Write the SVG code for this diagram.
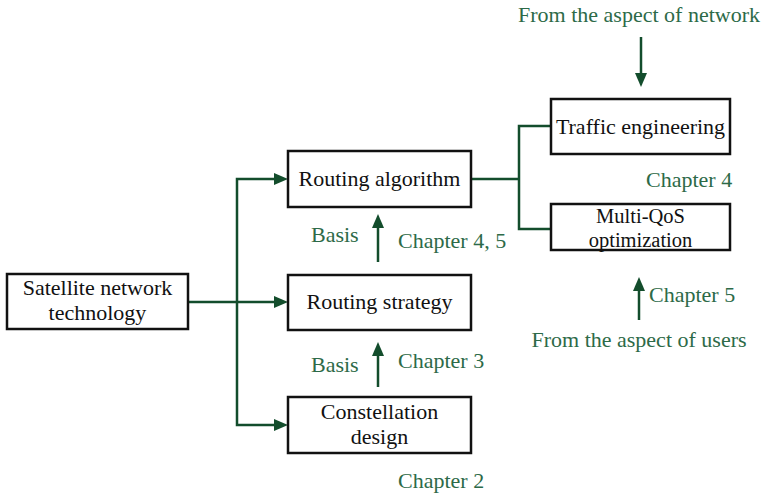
<svg xmlns="http://www.w3.org/2000/svg" width="762" height="495" viewBox="0 0 762 495">
<style>
.box{fill:#fff;stroke:#111;stroke-width:2.5}
.t{font-family:"Liberation Serif","Times New Roman",serif;font-size:22px;fill:#111;text-anchor:middle}
.s{font-size:20.5px}
.g{font-family:"Liberation Serif","Times New Roman",serif;font-size:22px;fill:#2d6a48}
.ln{fill:none;stroke:#134d2c;stroke-width:2.5}
.ah{fill:#134d2c}
</style>
<rect width="762" height="495" fill="#fff"/>
<g id="connectors">
<polyline class="ln" points="188,302 276,302"/>
<polyline class="ln" points="276,179 237,179 237,425 276,425"/>
<polygon class="ah" points="288,179 274,173 274,185"/>
<polygon class="ah" points="288,302 274,296 274,308"/>
<polygon class="ah" points="288,425 274,419 274,431"/>
<polyline class="ln" points="471,179 519,179"/>
<polyline class="ln" points="551,126 519,126 519,229 551,229"/>
<line class="ln" x1="378" y1="262" x2="378" y2="226"/>
<polygon class="ah" points="378,214 372,228 384,228"/>
<line class="ln" x1="378" y1="387" x2="378" y2="354"/>
<polygon class="ah" points="378,342 372,356 384,356"/>
<line class="ln" x1="641" y1="37" x2="641" y2="75"/>
<polygon class="ah" points="641,87 635,73 647,73"/>
<line class="ln" x1="639" y1="320" x2="639" y2="289"/>
<polygon class="ah" points="639,277 633,291 645,291"/>
</g>
<g id="satellite">
<rect class="box" x="7" y="274" width="181" height="55"/>
<text class="t" x="97.5" y="295">Satellite network</text>
<text class="t" x="97.5" y="320">technology</text>
</g>
<g id="routing-algorithm">
<rect class="box" x="288" y="151" width="183" height="56"/>
<text class="t" x="379.5" y="186">Routing algorithm</text>
</g>
<g id="routing-strategy">
<rect class="box" x="288" y="275" width="183" height="55"/>
<text class="t" x="379.5" y="309">Routing strategy</text>
</g>
<g id="constellation">
<rect class="box" x="288" y="397" width="183" height="56"/>
<text class="t" x="379.5" y="419">Constellation</text>
<text class="t" x="379.5" y="444">design</text>
</g>
<g id="traffic">
<rect class="box" x="551" y="99" width="179" height="55"/>
<text class="t" x="640.5" y="134">Traffic engineering</text>
</g>
<g id="multiqos">
<rect class="box" x="551" y="204" width="179" height="46"/>
<text class="t s" x="640.5" y="223">Multi-QoS</text>
<text class="t s" x="640.5" y="246.5">optimization</text>
</g>
<g id="labels">
<text class="g" x="639" y="22" text-anchor="middle">From the aspect of network</text>
<text class="g" x="646" y="187">Chapter 4</text>
<text class="g" x="649" y="302">Chapter 5</text>
<text class="g" x="639" y="347" text-anchor="middle">From the aspect of users</text>
<text class="g" x="311" y="242">Basis</text>
<text class="g" x="398" y="248">Chapter 4, 5</text>
<text class="g" x="311" y="372">Basis</text>
<text class="g" x="398" y="368">Chapter 3</text>
<text class="g" x="398" y="488">Chapter 2</text>
</g>
</svg>
